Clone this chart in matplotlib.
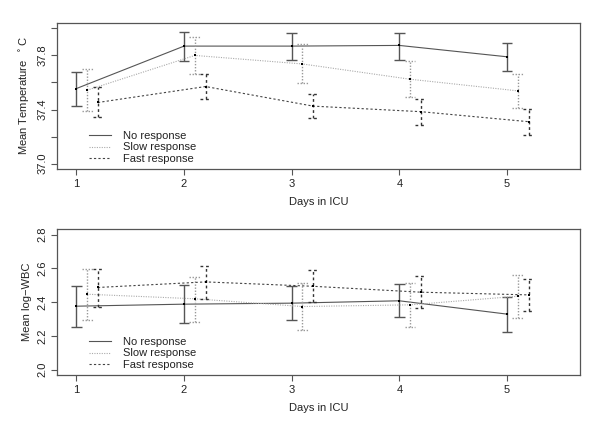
import matplotlib
matplotlib.use("Agg")
import matplotlib.pyplot as plt
import numpy as np

plt.rcParams['font.family'] = ['Liberation Sans', 'DejaVu Sans']

days = [1, 2, 3, 4, 5]
groups = ["No response", "Slow response", "Fast response"]
offsets = [0.0, 0.1, 0.2]

temp_mean = [
    [37.555, 37.869, 37.869, 37.874, 37.790],
    [37.543, 37.800, 37.737, 37.624, 37.538],
    [37.452, 37.570, 37.425, 37.384, 37.310],
]
temp_lo = [
    [37.428, 37.759, 37.763, 37.768, 37.688],
    [37.391, 37.663, 37.594, 37.491, 37.408],
    [37.342, 37.476, 37.335, 37.285, 37.215],
]
temp_hi = [
    [37.680, 37.976, 37.967, 37.967, 37.891],
    [37.697, 37.935, 37.884, 37.756, 37.665],
    [37.565, 37.663, 37.513, 37.479, 37.406],
]

wbc_mean = [
    [2.376, 2.388, 2.394, 2.408, 2.329],
    [2.447, 2.420, 2.374, 2.384, 2.435],
    [2.487, 2.520, 2.494, 2.459, 2.443],
]
wbc_lo = [
    [2.251, 2.278, 2.292, 2.310, 2.221],
    [2.296, 2.280, 2.233, 2.253, 2.304],
    [2.371, 2.420, 2.398, 2.363, 2.349],
]
wbc_hi = [
    [2.498, 2.504, 2.496, 2.508, 2.431],
    [2.599, 2.549, 2.516, 2.516, 2.563],
    [2.599, 2.614, 2.589, 2.555, 2.540],
]

styles = [
    dict(color="#555555", ls="-", lw=0.8),
    dict(color="#aaaaaa", ls=(0, (1, 1.2)), lw=0.8),
    dict(color="#444444", ls=(0, (2, 2)), lw=0.8),
]
err_colors = ["#555555", "#999999", "#333333"]
cap_half = 0.05

fig = plt.figure(figsize=(6, 4.24), dpi=100)
ax1 = fig.add_axes([0.095, 0.6014, 0.872, 0.3444])
ax2 = fig.add_axes([0.095, 0.1156, 0.872, 0.3436])

def draw(ax, means, los, his, ylim, yticks, ylabels, ylabel):
    x = np.array(days, dtype=float)
    for g in range(3):
        xs = x + offsets[g]
        m = np.array(means[g]); lo = np.array(los[g]); hi = np.array(his[g])
        st = styles[g]
        ax.plot(xs, m, color=st["color"], ls=st["ls"], lw=st["lw"], label=groups[g])
        ax.vlines(xs, lo, hi, colors=err_colors[g], linestyles=[st["ls"]], lw=1.0)
        ax.hlines(lo, xs - cap_half, xs + cap_half, colors=err_colors[g],
                  linestyles=[st["ls"]], lw=1.0)
        ax.hlines(hi, xs - cap_half, xs + cap_half, colors=err_colors[g],
                  linestyles=[st["ls"]], lw=1.0)
        ax.plot(xs, m, 's', color='black', ms=1.7, mew=0)
    ax.set_xlim(0.82, 5.68)
    ax.set_ylim(*ylim)
    ax.set_xticks(days)
    ax.set_xticklabels([str(d) for d in days])
    ax.set_yticks(yticks)
    ax.set_yticklabels(ylabels, rotation=90, va='center')
    for s in ax.spines.values():
        s.set_color("#555555")
        s.set_linewidth(0.9)
    ax.tick_params(direction='out', length=4, width=0.8, color="#555555",
                   labelsize=8, labelcolor="#222222", pad=3)
    ax.set_xlabel("Days in ICU", fontsize=8, color="#222222", labelpad=6)
    ax.set_ylabel(ylabel, fontsize=8, color="#222222", labelpad=4)
    ax.legend(loc='lower left', bbox_to_anchor=(0.042, -0.035), frameon=False,
              fontsize=8, handlelength=2.0, handletextpad=1.1, labelspacing=0.15,
              labelcolor="#222222")

draw(ax1, temp_mean, temp_lo, temp_hi, (36.96, 38.04),
     [37.0, 37.2, 37.4, 37.6, 37.8, 38.0], ["37.0", "", "37.4", "", "37.8", ""],
     "Mean Temperature  $^\\circ$C")
draw(ax2, wbc_mean, wbc_lo, wbc_hi, (1.968, 2.832),
     [2.0, 2.2, 2.4, 2.6, 2.8], ["2.0", "2.2", "2.4", "2.6", "2.8"],
     "Mean log\u2212WBC")

fig.savefig("out.png", dpi=100)
